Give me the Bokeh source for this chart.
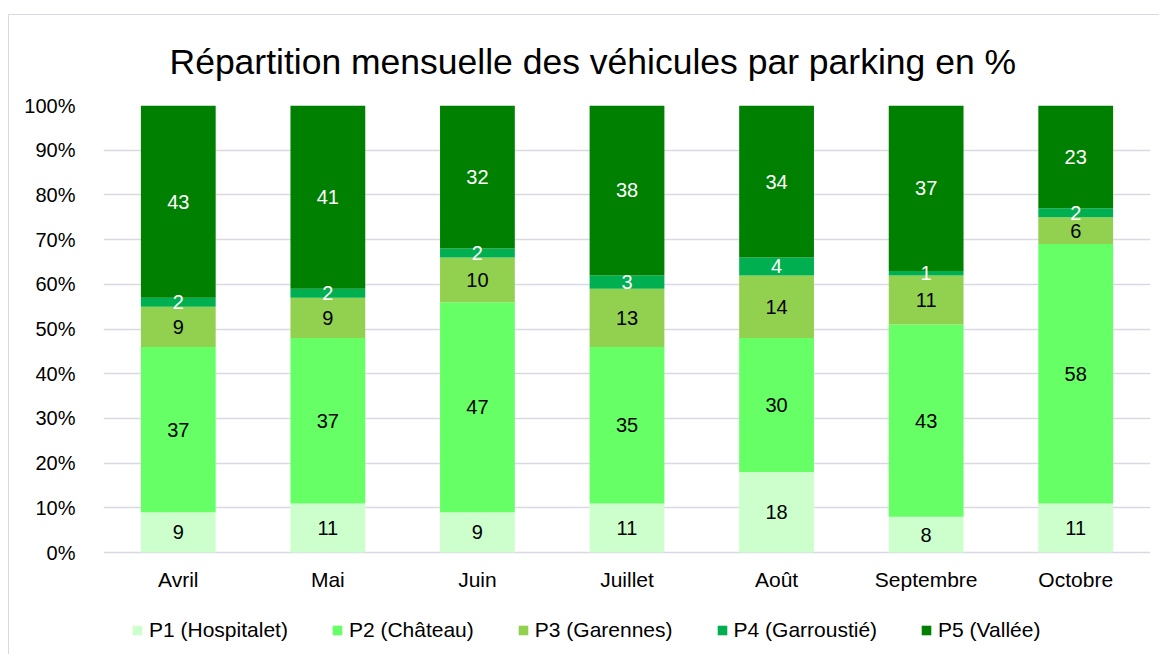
from bokeh.plotting import figure
from bokeh.models import ColumnDataSource, Legend, LegendItem, FactorRange
from bokeh.core.properties import value
from bokeh.embed import file_html
from bokeh.resources import INLINE

months = ["Avril", "Mai", "Juin", "Juillet", "Août", "Septembre", "Octobre"]
series_names = ["P1 (Hospitalet)", "P2 (Château)", "P3 (Garennes)", "P4 (Garroustié)", "P5 (Vallée)"]
p1 = [9, 11, 9, 11, 18, 8, 11]
p2 = [37, 37, 47, 35, 30, 43, 58]
p3 = [9, 9, 10, 13, 14, 11, 6]
p4 = [2, 2, 2, 3, 4, 1, 2]
p5 = [43, 41, 32, 38, 34, 37, 23]
y_ticks = [0, 10, 20, 30, 40, 50, 60, 70, 80, 90, 100]

colors = ["#CCFFCC", "#66FF66", "#92D050", "#00B050", "#008000"]
label_colors = ["#000000", "#000000", "#000000", "#FFFFFF", "#FFFFFF"]
FONT = "Liberation Sans"

keys = ["p1", "p2", "p3", "p4", "p5"]
data = {"month": months, "p1": p1, "p2": p2, "p3": p3, "p4": p4, "p5": p5}
src = ColumnDataSource(data)

# frame spans 105..650 px; 0..100 % occupies 105..552 px, room below for month labels + legend
p = figure(x_range=FactorRange(*months, range_padding=0), y_range=(-21.9, 100),
           width=1151, height=640, output_backend="svg", toolbar_location=None,
           min_border_left=94, min_border_right=10, min_border_top=90, min_border_bottom=5)
p.styles = {"border-left": "1px solid #D9D9E6", "border-top": "1px solid #D9D9E6",
            "margin-left": "8px", "margin-top": "14px"}

renderers = p.vbar_stack(keys, x="month", width=0.5, color=colors, source=src, line_color=None)

# data labels
series = [p1, p2, p3, p4, p5]
cum = [0] * len(months)
for i, s in enumerate(series):
    mids = [c + v / 2 for c, v in zip(cum, s)]
    cum = [c + v for c, v in zip(cum, s)]
    p.text(x=months, y=mids, text=[str(v) for v in s], text_align="center", text_baseline="middle",
           text_font=value(FONT), text_font_size="20px", text_color=label_colors[i])

# category labels
p.text(x=months, y=[-6.0] * len(months), text=months, text_align="center", text_baseline="middle",
       text_font=value(FONT), text_font_size="21px", text_color="#000000")

p.title.text = "Répartition mensuelle des véhicules par parking en %"
p.title.align = "left"
p.title.offset = 66
p.title.standoff = 48
p.title.text_font = FONT
p.title.text_font_size = "35.5px"
p.title.text_font_style = "normal"
p.title.text_color = "#000000"

p.xaxis.visible = False
p.xgrid.grid_line_color = None
p.ygrid.grid_line_color = "#D9D9E6"
p.ygrid.grid_line_width = 1.5
p.yaxis.ticker = y_ticks
p.yaxis.major_label_overrides = {t: f"{t}%" for t in y_ticks}
ax = p.yaxis[0]
ax.axis_line_color = None
ax.major_tick_line_color = None
ax.minor_tick_line_color = None
ax.major_label_text_font = FONT
ax.major_label_text_font_size = "20px"
ax.major_label_text_color = "#000000"
ax.major_label_standoff = 22
p.outline_line_color = None

items = [LegendItem(label=n, renderers=[r]) for n, r in zip(series_names, renderers)]
legend = Legend(items=items, orientation="horizontal", location=(28, 8),
                label_text_font=FONT, label_text_font_size="21px", label_text_color="#000000",
                glyph_width=12, glyph_height=12, label_standoff=6, spacing=43,
                border_line_color=None, background_fill_alpha=0, padding=6, margin=0)
p.add_layout(legend, "center")

open("out.html", "w").write(file_html(p, INLINE))
